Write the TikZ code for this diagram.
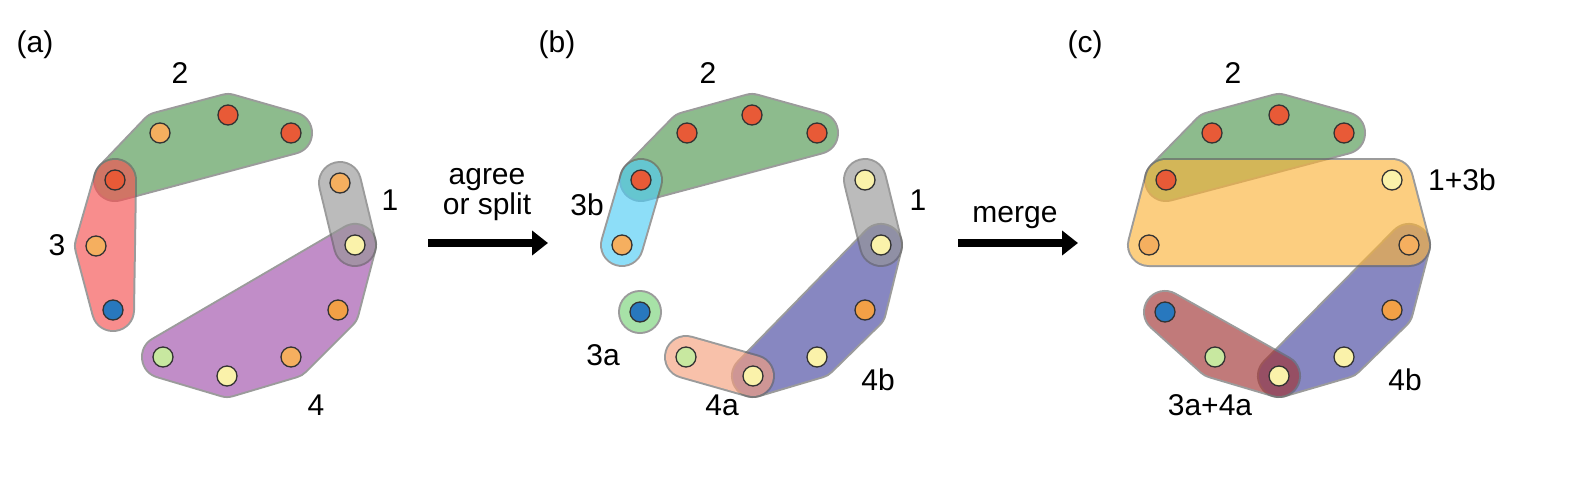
\documentclass[tikz,border=0pt]{standalone}
\usepackage{fontspec}
\setmainfont{Liberation Sans}
\usetikzlibrary{arrows.meta}
\definecolor{dR}{RGB}{232,90,55}
\definecolor{dO}{RGB}{245,175,95}
\definecolor{dY}{RGB}{250,242,170}
\definecolor{dG}{RGB}{200,232,160}
\definecolor{dB}{RGB}{40,120,190}
\definecolor{dM}{RGB}{242,160,70}
\definecolor{hGreen}{RGB}{80,150,80}
\definecolor{hRed}{RGB}{245,80,80}
\definecolor{hGray}{RGB}{150,150,150}
\definecolor{hPurple}{RGB}{160,80,170}
\definecolor{hCyan}{RGB}{80,205,245}
\definecolor{hLGreen}{RGB}{120,210,120}
\definecolor{hSalmon}{RGB}{245,160,125}
\definecolor{hBlue}{RGB}{70,70,160}
\definecolor{hOrange}{RGB}{250,180,60}
\definecolor{hDRed}{RGB}{160,50,50}
\newcommand\myhull[2]{\begin{scope}[transparency group,opacity=0.65]
\draw[line width=44pt,line join=round,line cap=round,draw=black!60,fill=black!60] #2;
\draw[line width=40pt,line join=round,line cap=round,draw=#1,fill=#1] #2;
\end{scope}}
\tikzset{dot/.style={circle,draw=black!80,line width=1.3pt,minimum size=20pt,inner sep=0pt},
lab/.style={font=\fontsize{30}{34}\selectfont,inner sep=0pt},
bigarrow/.style={line width=8pt,-{Triangle[length=16pt,width=24pt]}}}
\begin{document}
\begin{tikzpicture}[x=1pt,y=-1pt]
\useasboundingbox (0,0) rectangle (1584,493);
% panel a coordinates
\foreach \n/\x/\y in {a1/160/133,a2/228/115,a3/291/133,a4/115/180,a5/340/183,a6/355/245,a7/96/246,a8/113/310,a9/338/310,a10/291/357,a11/227/376,a12/163/357,
b1/687/133,b2/752/115,b3/817/133,b4/641/180,b5/865/180,b6/881/245,b7/622/245,b8/640/312,b9/865/310,b10/817/357,b11/753/376,b12/686/357,
c1/1212/133,c2/1279/115,c3/1344/133,c4/1166/180,c5/1392/180,c6/1409/245,c7/1149/245,c8/1165/312,c9/1392/310,c10/1344/357,c11/1279/376,c12/1215/357}
  \coordinate (p\n) at (\x,\y);
% hulls (a)
\myhull{hGreen}{(pa4)--(pa1)--(pa2)--(pa3)--cycle}
\myhull{hRed}{(pa4)--(pa7)--(pa8)--cycle}
\myhull{hPurple}{(pa6)--(pa9)--(pa10)--(pa11)--(pa12)--cycle}
\myhull{hGray}{(pa5)--(pa6)}
% hulls (b)
\myhull{hGreen}{(pb4)--(pb1)--(pb2)--(pb3)--cycle}
\myhull{hCyan}{(pb4)--(pb7)}
\myhull{hLGreen}{(pb8)--(pb8)}
\myhull{hBlue}{(pb6)--(pb9)--(pb10)--(pb11)--cycle}
\myhull{hSalmon}{(pb12)--(pb11)}
\myhull{hGray}{(pb5)--(pb6)}
% hulls (c)
\myhull{hGreen}{(pc4)--(pc1)--(pc2)--(pc3)--cycle}
\myhull{hBlue}{(pc6)--(pc9)--(pc10)--(pc11)--cycle}
\myhull{hDRed}{(pc8)--(pc12)--(pc11)--cycle}
\myhull{hOrange}{(pc4)--(pc5)--(pc6)--(pc7)--cycle}
% dots
\foreach \n/\c in {a1/dO,a2/dR,a3/dR,a4/dR,a5/dO,a6/dY,a7/dO,a8/dB,a9/dM,a10/dO,a11/dY,a12/dG,
b1/dR,b2/dR,b3/dR,b4/dR,b5/dY,b6/dY,b7/dO,b8/dB,b9/dM,b10/dY,b11/dY,b12/dG,
c1/dR,c2/dR,c3/dR,c4/dR,c5/dY,c6/dO,c7/dO,c8/dB,c9/dM,c10/dY,c11/dY,c12/dG}
  \node[dot,fill=\c] (\n) at (p\n) {};
% labels
\node[lab] (la) at (35,45) {(a)};
\node[lab] (lb) at (557,45) {(b)};
\node[lab] (lc) at (1085,45) {(c)};
\node[lab] (a2l) at (180,73) {2};
\node[lab] (a1l) at (390,200) {1};
\node[lab] (a3l) at (57,245) {3};
\node[lab] (a4l) at (316,405) {4};
\node[lab] (b2l) at (708,73) {2};
\node[lab] (b3bl) at (587,205) {3b};
\node[lab] (b1l) at (918,200) {1};
\node[lab] (b3al) at (603,355) {3a};
\node[lab] (b4bl) at (878,380) {4b};
\node[lab] (b4al) at (722,405) {4a};
\node[lab] (c2l) at (1233,73) {2};
\node[lab] (c13l) at (1462,180) {1+3b};
\node[lab] (c4bl) at (1405,380) {4b};
\node[lab] (c34l) at (1210,405) {3a+4a};
% arrows
\coordinate (ar1s) at (428,243); \coordinate (ar1e) at (548,243);
\coordinate (ar2s) at (958,243); \coordinate (ar2e) at (1078,243);
\draw[bigarrow] (ar1s) -- (ar1e);
\draw[bigarrow] (ar2s) -- (ar2e);
\node[lab,align=center] (t1) at (487,195) {agree\\[-4pt]or split};
\node[lab] (t2) at (1015,218) {merge};
\end{tikzpicture}
\end{document}
